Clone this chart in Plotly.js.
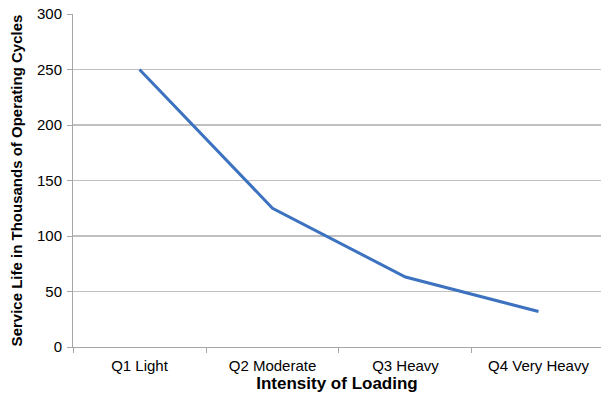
<!DOCTYPE html>
<html>
<head>
<meta charset="utf-8">
<script src="https://cdn.plot.ly/plotly-3.0.1.min.js"></script>
<style>html,body{margin:0;padding:0;background:#fff;}#chart{width:601px;height:398px;}</style>
</head>
<body>
<div id="chart"></div>
<script>
var categories = ["Q1 Light", "Q2 Moderate", "Q3 Heavy", "Q4 Very Heavy"];
var serviceLife = [250, 125, 63, 32];
var yTicks = [0, 50, 100, 150, 200, 250, 300];

var trace = {
  x: categories,
  y: serviceLife,
  type: "scatter",
  mode: "lines",
  line: {color: "#3c72bf", width: 3},
  hoverinfo: "none"
};

var layout = {
  width: 601,
  height: 398,
  margin: {l: 73, r: 0, t: 14, b: 51},
  paper_bgcolor: "#ffffff",
  plot_bgcolor: "#ffffff",
  showlegend: false,
  font: {family: "Liberation Sans, Arial, sans-serif", color: "#000000", size: 15},
  xaxis: {
    type: "category",
    range: [-0.5, 3.47],
    showgrid: false,
    showline: true,
    linecolor: "#a6a6a6",
    linewidth: 1,
    ticks: "outside",
    ticklen: 5,
    tickcolor: "#a6a6a6",
    tickson: "boundaries",
    ticklabelstandoff: 5,
    tickfont: {size: 15, color: "#000"},
    zeroline: false,
    title: {text: "<b>Intensity of Loading</b>", font: {size: 17, color: "#000"}, standoff: 4}
  },
  yaxis: {
    range: [0, 300],
    tickvals: yTicks,
    showgrid: true,
    gridcolor: "#c0c0c0",
    gridwidth: 1.3,
    showline: true,
    linecolor: "#a6a6a6",
    linewidth: 1,
    ticks: "outside",
    ticklen: 5,
    tickcolor: "#a6a6a6",
    ticklabelstandoff: 2,
    tickfont: {size: 15, color: "#000"},
    zeroline: false,
    title: {text: "<b>Service Life in Thousands of Operating Cycles</b>", font: {size: 15, color: "#000"}, standoff: 10}
  }
};

Plotly.newPlot("chart", [trace], layout, {displayModeBar: false, staticPlot: true});
</script>
</body>
</html>
